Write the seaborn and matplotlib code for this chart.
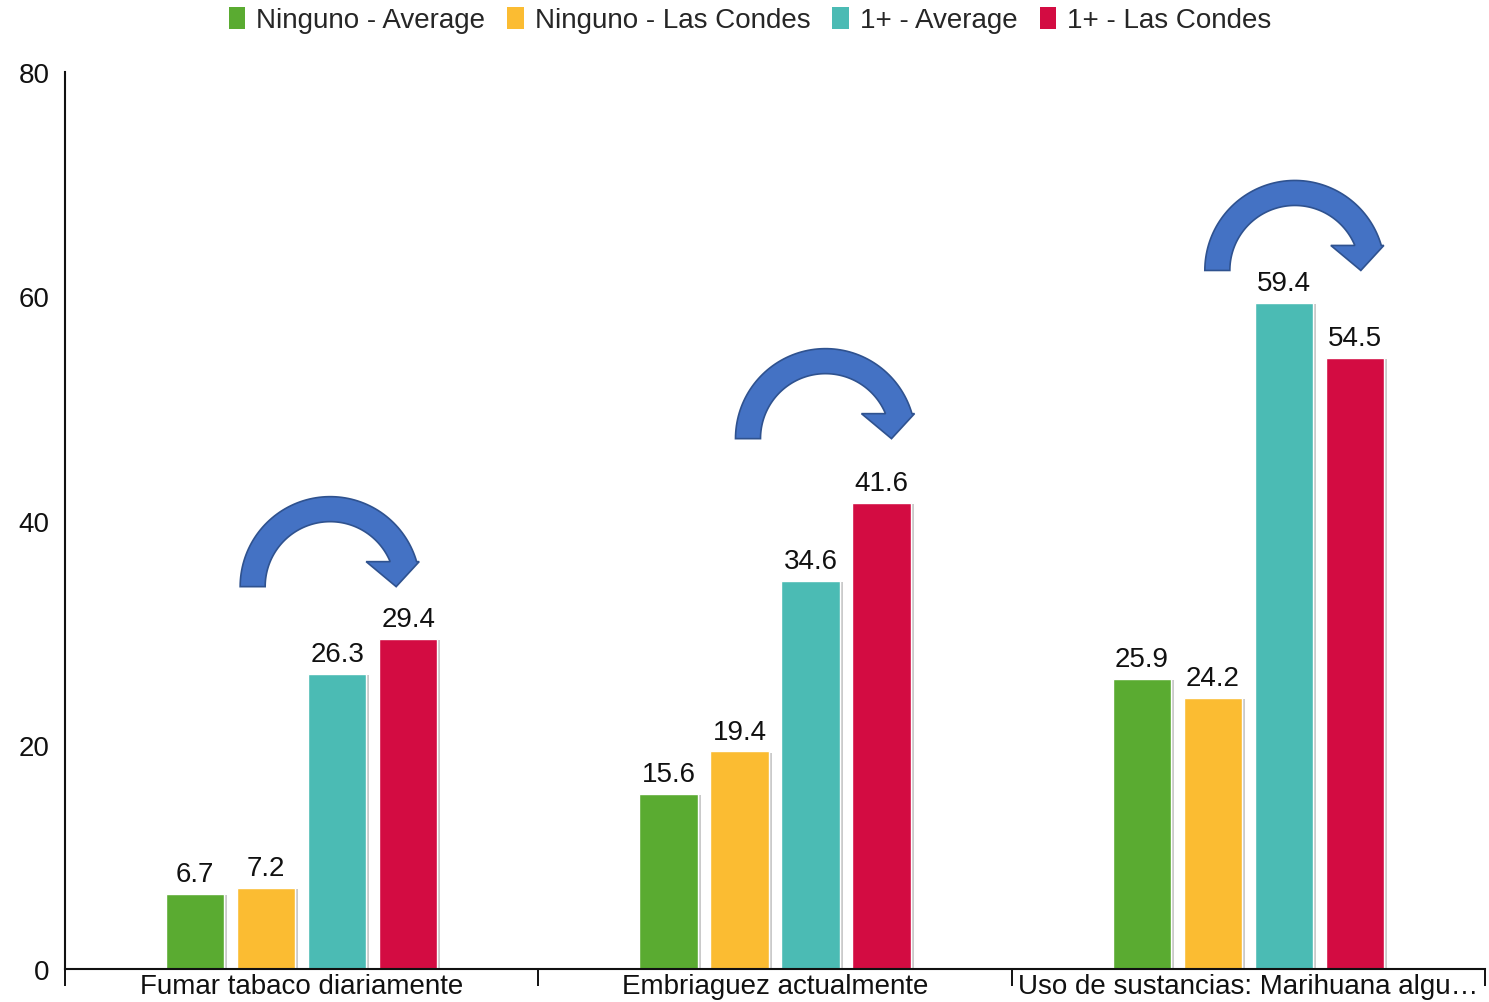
import numpy as np
import pandas as pd
import matplotlib
matplotlib.use("Agg")
import matplotlib.pyplot as plt
import matplotlib.patheffects as pe
from matplotlib.patches import Polygon
from matplotlib.ticker import FixedLocator
import seaborn as sns

# ---- data ----
categories = [
    "Fumar tabaco diariamente",
    "Embriaguez actualmente",
    "Uso de sustancias: Marihuana algu\u2026",
]
series = ["Ninguno - Average", "Ninguno - Las Condes", "1+ - Average", "1+ - Las Condes"]
ninguno_average = [6.7, 15.6, 25.9]
ninguno_las_condes = [7.2, 19.4, 24.2]
uno_mas_average = [26.3, 34.6, 59.4]
uno_mas_las_condes = [29.4, 41.6, 54.5]
y_ticks = [0, 20, 40, 60, 80]

# ---- styling / layout ----
colors = ["#5AAB31", "#FBBC32", "#4BBBB4", "#D30C42"]
arrow_base = [34.1, 47.3, 62.3]   # baseline height of each curved arrow (data units)
arrow_shift_px = [-7, 15, 11]     # arrow centre relative to the "1+ - Average" bar (pixels)
ARROW_FACE = "#4472C4"
ARROW_EDGE = "#2F528F"

values = [ninguno_average, ninguno_las_condes, uno_mas_average, uno_mas_las_condes]
df = pd.DataFrame(
    [(c, s, v[i]) for s, v in zip(series, values) for i, c in enumerate(categories)],
    columns=["categoria", "serie", "valor"],
)

sns.set_theme(style="white")
plt.rcParams["font.family"] = ["Liberation Sans", "DejaVu Sans"]

W, H, DPI = 1489, 1003, 100
fig = plt.figure(figsize=(W / DPI, H / DPI), dpi=DPI)
ax = fig.add_axes([65 / W, (H - 970) / H, (1485 - 65) / W, (970 - 73) / H])

sns.barplot(
    data=df, x="categoria", y="valor", hue="serie",
    order=categories, hue_order=series,
    palette=colors, saturation=1, width=0.6, gap=0.18,
    edgecolor="white", linewidth=1.0, errorbar=None, ax=ax,
)

shadow = [pe.SimplePatchShadow(offset=(2.2, -0.8), shadow_rgbFace="#8a8a8a", alpha=0.45), pe.Normal()]
for cont in ax.containers:
    for bar in cont:
        bar.set_path_effects(shadow)
    ax.bar_label(cont, fmt="%.1f", padding=5, fontsize=20, color="#111111")

ax.set_xlim(-0.5, 2.5)
ax.set_ylim(0, 80)
ax.set_yticks(y_ticks)
ax.set_xlabel("")
ax.set_ylabel("")
ax.tick_params(axis="y", left=False, length=0, pad=11, labelsize=20, labelcolor="#111111")
ax.tick_params(axis="x", which="major", length=0, pad=3, labelsize=20, labelcolor="#111111")
ax.xaxis.set_minor_locator(FixedLocator([-0.5, 0.5, 1.5, 2.5]))
ax.tick_params(axis="x", which="minor", bottom=True, length=12, width=1.4,
               color="#111111", direction="out")
for side in ["top", "right"]:
    ax.spines[side].set_visible(False)
for side in ["left", "bottom"]:
    ax.spines[side].set_color("#111111")
    ax.spines[side].set_linewidth(1.5)
ax.grid(False)

# legend across the top
leg = ax.legend(
    loc="center", bbox_to_anchor=(750 / W, 1 - 21 / H), bbox_transform=fig.transFigure,
    ncol=4, frameon=False, fontsize=20, handlelength=0.58, handleheight=0.86,
    handletextpad=0.4, columnspacing=0.8, borderpad=0, borderaxespad=0,
)
for h in leg.legend_handles:
    h.set_edgecolor("none")
    h.set_path_effects([])


def curved_arrow(cx, cy, r_out=90.0, r_in=65.0, lift=25.0):
    """Clockwise half-ring arrow in display pixels, tail resting on baseline cy."""
    t_out = np.arcsin(lift / r_out)
    t_in = np.arcsin(lift / r_in)
    a_out = np.linspace(np.pi, t_out, 80)
    a_in = np.linspace(t_in, np.pi, 80)
    pts = [(cx + r_out * np.cos(a), cy + r_out * np.sin(a)) for a in a_out]
    pts += [(cx + 89, cy + lift), (cx + 66, cy), (cx + 36, cy + lift)]
    pts += [(cx + r_in * np.cos(a), cy + r_in * np.sin(a)) for a in a_in]
    return np.array(pts)


teal_bars = ax.containers[2]
to_disp = ax.transData
to_data = ax.transData.inverted()
for tb, base, shift in zip(teal_bars, arrow_base, arrow_shift_px):
    xm = tb.get_x() + tb.get_width() / 2
    px, py = to_disp.transform((xm, base))
    poly = to_data.transform(curved_arrow(px + shift, py))
    ax.add_patch(Polygon(poly, closed=True, facecolor=ARROW_FACE, edgecolor=ARROW_EDGE,
                         linewidth=1.2, clip_on=False, zorder=5))

fig.savefig("out.png", dpi=DPI)
